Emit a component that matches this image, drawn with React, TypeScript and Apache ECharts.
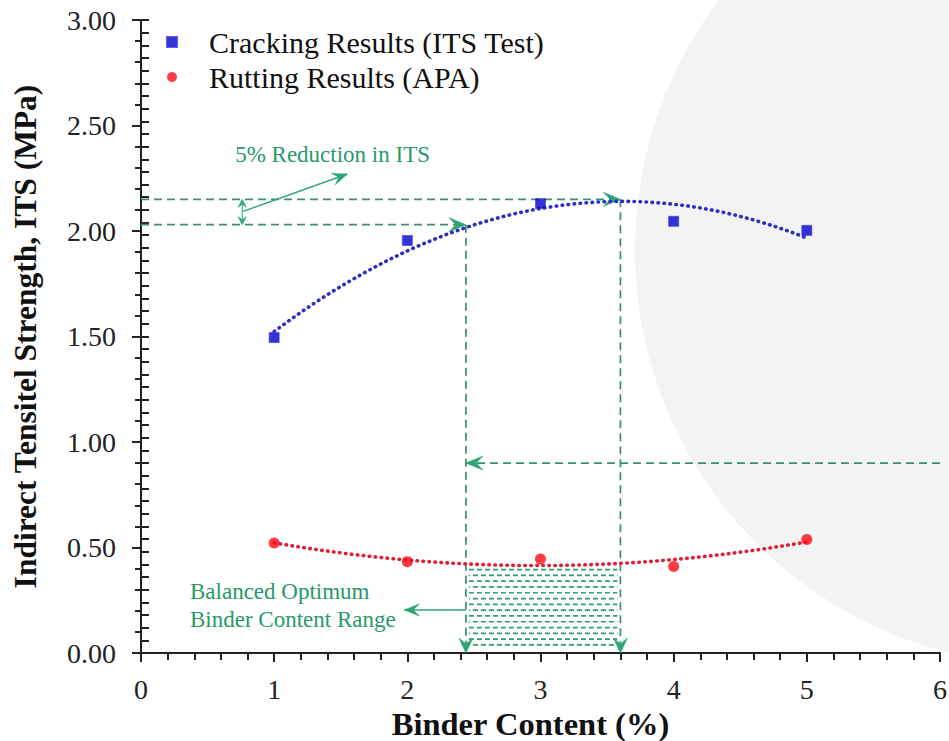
import { useEffect, useRef } from "react";
import * as echarts from "echarts";

// Measured results per binder content (%)
const binderContent = [1, 2, 3, 4, 5];
const itsCracking = [1.495, 1.955, 2.13, 2.046, 2.003];
const apaRutting = [0.521, 0.433, 0.445, 0.41, 0.538];

// Axis ranges
const xRange = [0, 6];
const yRange = [0, 3];

// Annotation levels (MPa) and binder contents (%)
const peakITS = 2.15;
const reducedITS = 2.03;
const optimumRange = [2.44, 3.6];
const ruttingLimit = 0.9;
const hatchTop = 0.405;

const SERIF = "Liberation Serif";
const AXIS = "#222";
const LINE_GREEN = "#3a8f6c";
const HEAD_GREEN = "#2ba674";
const TEXT_GREEN = "#27996a";

// Least-squares fit y = a + b x + c x^2
function quadraticFit(xs: number[], ys: number[]) {
  let n = 0, s1 = 0, s2 = 0, s3 = 0, s4 = 0, t0 = 0, t1 = 0, t2 = 0;
  xs.forEach((x, i) => {
    const y = ys[i];
    n += 1; s1 += x; s2 += x * x; s3 += x * x * x; s4 += x * x * x * x;
    t0 += y; t1 += x * y; t2 += x * x * y;
  });
  const det = (m: number[][]) =>
    m[0][0] * (m[1][1] * m[2][2] - m[1][2] * m[2][1]) -
    m[0][1] * (m[1][0] * m[2][2] - m[1][2] * m[2][0]) +
    m[0][2] * (m[1][0] * m[2][1] - m[1][1] * m[2][0]);
  const M = [[n, s1, s2], [s1, s2, s3], [s2, s3, s4]];
  const R = [t0, t1, t2];
  const D = det(M);
  const col = (k: number) => M.map((row, i) => row.map((v, j) => (j === k ? R[i] : v)));
  return [det(col(0)) / D, det(col(1)) / D, det(col(2)) / D];
}

function trendLine(xs: number[], ys: number[]) {
  const [a, b, c] = quadraticFit(xs, ys);
  const lo = Math.min(...xs);
  const hi = Math.max(...xs);
  const pts: number[][] = [];
  const steps = 80;
  for (let i = 0; i <= steps; i++) {
    const x = lo + ((hi - lo) * i) / steps;
    pts.push([x, a + b * x + c * x * x]);
  }
  return pts;
}

function arrowHead(tip: number[], from: number[], L = 17, W = 14) {
  const dx = tip[0] - from[0];
  const dy = tip[1] - from[1];
  const len = Math.hypot(dx, dy) || 1;
  const ux = dx / len, uy = dy / len;
  const nx = -uy, ny = ux;
  const bx = tip[0] - ux * L, by = tip[1] - uy * L;
  const notch = [tip[0] - ux * L * 0.6, tip[1] - uy * L * 0.6];
  return {
    type: "polygon",
    shape: {
      points: [
        [tip[0], tip[1]],
        [bx + (nx * W) / 2, by + (ny * W) / 2],
        notch,
        [bx - (nx * W) / 2, by - (ny * W) / 2],
      ],
    },
    style: { fill: HEAD_GREEN, stroke: HEAD_GREEN, lineWidth: 0.6 },
  };
}

function dashed(p1: number[], p2: number[]) {
  return {
    type: "line",
    shape: { x1: p1[0], y1: p1[1], x2: p2[0], y2: p2[1] },
    style: { stroke: LINE_GREEN, lineWidth: 1.7, lineDash: [8, 5] },
  };
}

function solid(p1: number[], p2: number[], w = 1.4) {
  return {
    type: "line",
    shape: { x1: p1[0], y1: p1[1], x2: p2[0], y2: p2[1] },
    style: { stroke: HEAD_GREEN, lineWidth: w },
  };
}

function greenText(p: number[], text: string) {
  return {
    type: "text",
    x: p[0],
    y: p[1],
    style: {
      text,
      fill: TEXT_GREEN,
      fontFamily: SERIF,
      fontSize: 23,
      align: "left",
      verticalAlign: "middle",
    },
  };
}

function renderAnnotations(_params: any, api: any) {
  const c = (x: number, y: number) => api.coord([x, y]);
  const [r0, r1] = optimumRange;
  const children: any[] = [];

  // hatched optimum band under the rutting curve
  const h0 = c(r0, hatchTop);
  const h1 = c(r1, 0);
  const step = 5.8;
  let row = 0;
  for (let y = h0[1] + 2; y < h1[1] - 3; y += step) {
    children.push({
      type: "line",
      shape: { x1: h0[0] + 3, y1: y, x2: h1[0] - 3, y2: y },
      style: {
        stroke: "#2f9e72",
        lineWidth: 1.7,
        lineDash: [5, 3],
        lineDashOffset: row % 2 ? 4 : 0,
      },
    });
    row++;
  }

  // peak ITS and 95 % level guides
  const pk0 = c(xRange[0], peakITS);
  const pk1 = c(r1, peakITS);
  children.push(dashed(pk0, pk1), arrowHead(pk1, pk0));
  const rd0 = c(xRange[0], reducedITS);
  const rd1 = c(r0, reducedITS);
  children.push(dashed(rd0, rd1), arrowHead(rd1, rd0));

  // drop lines to the binder axis
  const v1a = c(r1, peakITS);
  const v1b = c(r1, 0);
  children.push(dashed(v1a, v1b), arrowHead(v1b, v1a, 15, 14));
  const v0a = c(r0, reducedITS);
  const v0b = c(r0, 0);
  children.push(dashed(v0a, v0b), arrowHead(v0b, v0a, 15, 14));

  // rutting limit guide from the right axis
  const rl0 = c(xRange[1], ruttingLimit);
  const rl1 = c(r0, ruttingLimit);
  children.push(dashed(rl0, rl1), arrowHead(rl1, rl0));

  // 5 % reduction marker
  const da = c(0.76, peakITS);
  const db = c(0.76, reducedITS);
  children.push(
    solid([da[0], da[1] + 3], [db[0], db[1] - 3], 1),
    arrowHead(da, db, 8, 8),
    arrowHead(db, da, 8, 8)
  );
  const pa = c(0.767, 2.093);
  const pb = c(1.55, 2.27);
  children.push(solid(pa, pb), arrowHead(pb, pa, 15, 12));
  children.push(greenText(c(0.707, 2.364), "5% Reduction in ITS"));

  // optimum range label
  const ba = c(r0, 0.204);
  const bb = c(1.977, 0.204);
  children.push(solid(ba, bb), arrowHead(bb, ba, 15, 12));
  children.push(greenText(c(0.368, 0.2895), "Balanced Optimum"));
  children.push(greenText(c(0.368, 0.157), "Binder Content Range"));

  return { type: "group", children };
}

export default function App() {
  const ref = useRef<HTMLDivElement>(null);

  useEffect(() => {
    if (!ref.current) return;
    const chart = echarts.init(ref.current, undefined, { renderer: "svg" });

    const crackingPts = binderContent.map((x, i) => [x, itsCracking[i]]);
    const ruttingPts = binderContent.map((x, i) => [x, apaRutting[i]]);

    chart.setOption({
      animation: false,
      backgroundColor: "#ffffff",
      graphic: [
        {
          type: "circle",
          shape: { cx: 1050, cy: 250, r: 415 },
          style: { fill: "#f3f3f3" },
          z: -100,
          silent: true,
        },
      ],
      grid: {
        left: 141,
        top: 20,
        right: 9,
        bottom: 88,
        containLabel: false,
        outerBoundsMode: "none",
      },
      legend: {
        orient: "vertical",
        left: 161,
        top: 22,
        itemWidth: 10,
        itemHeight: 10,
        itemGap: 5,
        selectedMode: false,
        data: [
          { name: "Cracking Results (ITS Test)", icon: "rect" },
          { name: "Rutting Results (APA)", icon: "circle" },
        ],
        textStyle: {
          fontFamily: SERIF,
          fontSize: 30,
          color: "#111",
          padding: [0, 0, 0, 27],
        },
      },
      xAxis: [
        {
          type: "value",
          min: xRange[0],
          max: xRange[1],
          interval: 1,
          position: "bottom",
          axisLine: { show: true, lineStyle: { color: AXIS, width: 2 } },
          axisTick: { show: true, inside: false, length: 9, lineStyle: { color: AXIS, width: 2 } },
          minorTick: { show: true, splitNumber: 5, length: 7, lineStyle: { color: AXIS, width: 2 } },
          splitLine: { show: false },
          axisLabel: { fontFamily: SERIF, fontSize: 28, color: AXIS, margin: 22 },
          name: "Binder Content (%)",
          nameLocation: "middle",
          nameGap: 48,
          nameTextStyle: {
            fontFamily: SERIF,
            fontSize: 32.5,
            fontWeight: "bold",
            color: "#111",
            padding: [0, 20, 0, 0],
          },
        },
        {
          type: "value",
          min: xRange[0],
          max: xRange[1],
          position: "top",
          axisLine: { show: true, lineStyle: { color: AXIS, width: 2 } },
          axisTick: { show: false },
          axisLabel: { show: false },
          splitLine: { show: false },
        },
      ],
      yAxis: [
        {
          type: "value",
          min: yRange[0],
          max: yRange[1],
          interval: 0.5,
          position: "left",
          axisLine: { show: true, lineStyle: { color: AXIS, width: 2 } },
          axisTick: { show: true, inside: false, length: 9, lineStyle: { color: AXIS, width: 2 } },
          minorTick: { show: true, splitNumber: 5, length: 6, lineStyle: { color: AXIS, width: 2 } },
          splitLine: { show: false },
          axisLabel: {
            fontFamily: SERIF,
            fontSize: 28,
            color: AXIS,
            margin: 25,
            formatter: (v: number) => v.toFixed(2),
          },
          name: "Indirect Tensitel Strength, ITS (MPa)",
          nameLocation: "middle",
          nameGap: 100,
          nameTextStyle: { fontFamily: SERIF, fontSize: 31.5, fontWeight: "bold", color: "#111" },
        },
        {
          type: "value",
          min: 0,
          max: 50,
          interval: 1,
          position: "right",
          axisLine: { show: true, lineStyle: { color: AXIS, width: 2 } },
          axisTick: { show: true, inside: false, length: 8, lineStyle: { color: AXIS, width: 2 } },
          axisLabel: { show: false },
          splitLine: { show: false },
        },
      ],
      series: [
        {
          type: "custom",
          name: "annotations",
          coordinateSystem: "cartesian2d",
          data: [[0, 0]],
          silent: true,
          z: 1,
          renderItem: renderAnnotations,
        },
        {
          type: "line",
          name: "ITS trend",
          data: trendLine(binderContent, itsCracking),
          showSymbol: false,
          symbol: "none",
          z: 3,
          lineStyle: { color: "#2e2ec0", width: 3.6, type: [0.5, 5.5], cap: "round" },
        },
        {
          type: "line",
          name: "APA trend",
          data: trendLine(binderContent, apaRutting),
          showSymbol: false,
          symbol: "none",
          z: 3,
          lineStyle: { color: "#e01e36", width: 3.6, type: [0.5, 5.5], cap: "round" },
        },
        {
          type: "scatter",
          name: "Cracking Results (ITS Test)",
          data: crackingPts,
          symbol: "rect",
          symbolSize: 10,
          z: 4,
          itemStyle: { color: "#0000cc", borderColor: "#3a3ae6", borderWidth: 0.8 },
        },
        {
          type: "scatter",
          name: "Rutting Results (APA)",
          data: ruttingPts,
          symbol: "circle",
          symbolSize: 11,
          z: 4,
          itemStyle: { color: "#ff0a14" },
        },
      ],
    });

    return () => chart.dispose();
  }, []);

  return (
    <div
      ref={ref}
      style={{ position: "fixed", left: 0, top: 0, width: 949, height: 741, background: "#fff" }}
    />
  );
}
